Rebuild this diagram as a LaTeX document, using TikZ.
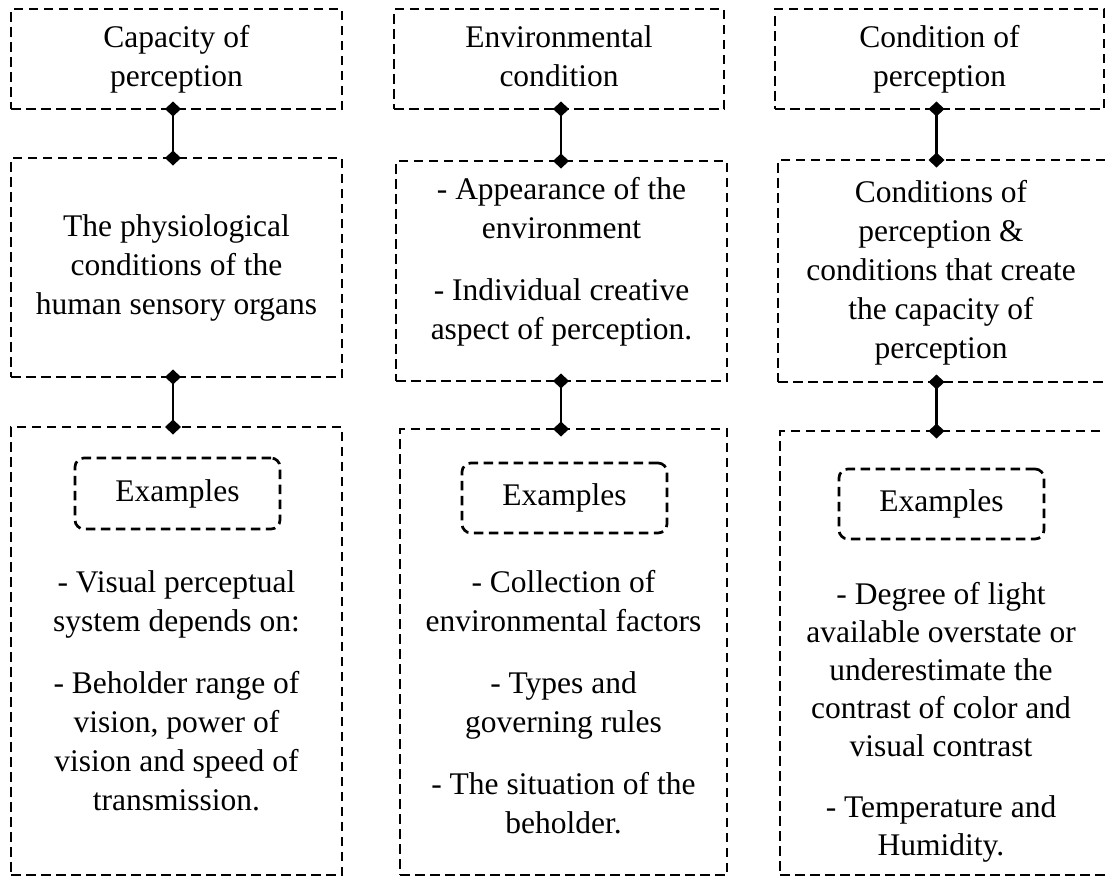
\documentclass[tikz,border=0pt]{standalone}
\usepackage{fontspec}
\setmainfont{Liberation Serif}
\usetikzlibrary{arrows.meta}
\begin{document}
\begin{tikzpicture}[x=1pt,y=-1pt,
  every node/.style={font=\fontsize{31.5}{39}\selectfont, align=center, inner sep=0pt, outer sep=0pt},
  frame/.style={draw, line width=2.7pt, dash pattern=on 9.5pt off 5.5pt},
  exbox/.style={frame, rounded corners=9pt},
  conn/.style={line width=2.2pt,
    {Diamond[length=15pt,width=16pt]}-{Diamond[length=15pt,width=16pt]},
    shorten <=-7.5pt, shorten >=-7.5pt}]
\useasboundingbox (0,0) rectangle (1105,878);

% column axes for the links
\coordinate (k1) at (173,0);
\coordinate (k2) at (561,0);
\coordinate (k3) at (936.5,0);

% ---- column 1
\node[frame, minimum width=331pt, minimum height=100pt] (t1) at (176.5,59) {Capacity of\\perception};
\node[frame, minimum width=331pt, minimum height=219pt] (m1) at (176.5,267.5)
  {The physiological\\conditions of the\\human sensory organs};
\node[frame, minimum width=331pt, minimum height=448pt] (b1) at (176.5,651) {};
\node[exbox, minimum width=205pt, minimum height=71pt] (e1) at (177.5,493.5) {Examples};
\node (x1) at (176.5,690.5)
  {- Visual perceptual\\system depends on:\\[23pt]- Beholder range of\\vision, power of\\vision and speed of\\transmission.};

% ---- column 2
\node[frame, minimum width=330pt, minimum height=100pt] (t2) at (559,59) {};
\node (y1) at (559,56) {Environmental\\condition};
\node[frame, minimum width=331pt, minimum height=220pt] (m2) at (561.5,271) {};
\node (y2) at (561.5,262)
  {- Appearance of the\\environment\\[23pt]- Individual creative\\aspect of perception.};
\node[frame, minimum width=327pt, minimum height=446pt] (b2) at (563.5,652) {};
\node[exbox, minimum width=205pt, minimum height=70pt] (e2) at (564.5,498) {Examples};
\node (x2) at (563.5,702)
  {- Collection of\\environmental factors\\[23pt]- Types and\\governing rules\\[23pt]- The situation of the\\beholder.};

% ---- column 3
\node[frame, minimum width=329pt, minimum height=100pt] (t3) at (939.5,59) {Condition of\\perception};
\node[frame, minimum width=330pt, minimum height=222pt] (m3) at (943,271) {};
\node (y3) at (941,273)
  {Conditions of\\perception \&\\conditions that create\\the capacity of\\perception};
\node[frame, minimum width=328pt, minimum height=444pt] (b3) at (944,653) {};
\node[exbox, minimum width=205pt, minimum height=70pt] (e3) at (941.5,504) {Examples};
\node[font=\fontsize{31.5}{38}\selectfont] (x3) at (941,722.5)
  {- Degree of light\\available overstate or\\underestimate the\\contrast of color and\\visual contrast\\[23pt]- Temperature and\\Humidity.};

% ---- links
\draw[conn] (t1.south -| k1) -- (m1.north -| k1);
\draw[conn] (m1.south -| k1) -- (b1.north -| k1);
\draw[conn] (t2.south -| k2) -- (m2.north -| k2);
\draw[conn] (m2.south -| k2) -- (b2.north -| k2);
\draw[conn] (t3.south -| k3) -- (m3.north -| k3);
\draw[conn] (m3.south -| k3) -- (b3.north -| k3);
\end{tikzpicture}
\end{document}
